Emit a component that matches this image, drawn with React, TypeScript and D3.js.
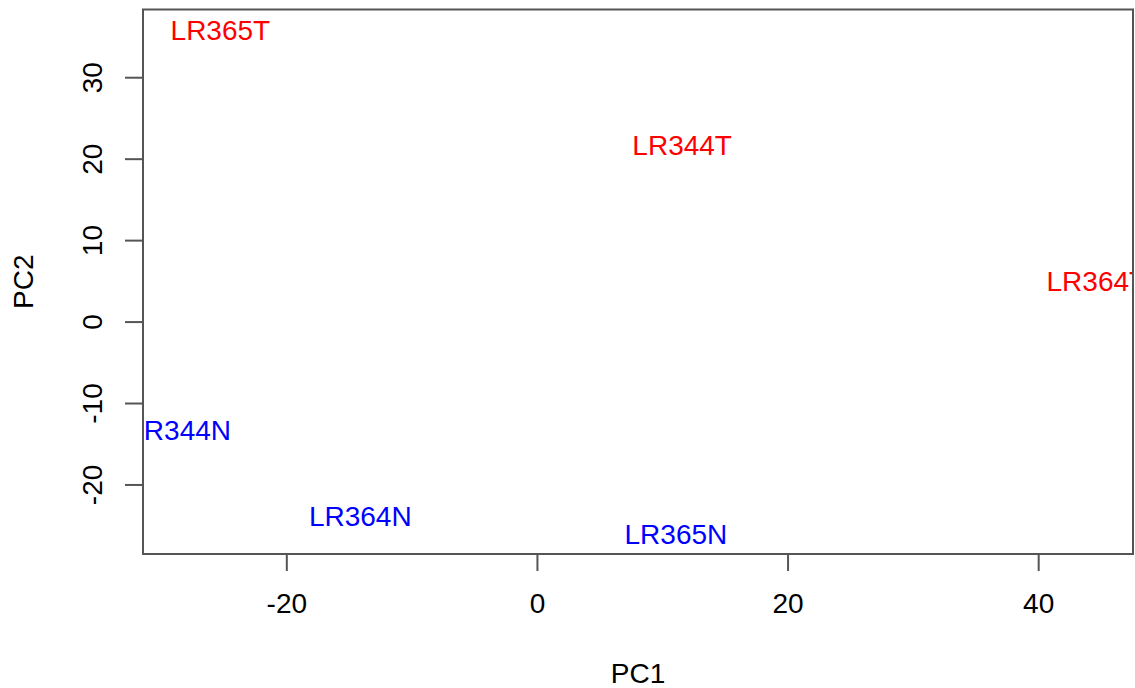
import React from "react";
import * as d3 from "d3";

const sampleNames = ["LR365T", "LR344T", "LR364T", "LR344N", "LR364N", "LR365N"];
const pc1Values = [-25.3, 11.55, 44.6, -28.55, -14.14, 11.05];
const pc2Values = [35.9, 21.7, 5.1, -13.25, -23.8, -26.0];
const groups = ["T", "T", "T", "N", "N", "N"];
const xTicks = [-20, 0, 20, 40];
const yTicks = [-20, -10, 0, 10, 20, 30];

const W = 1135;
const H = 688;
const left = 143;
const right = 1133;
const top = 9.5;
const bottom = 554;
const FS = 28;
const FONT = "'Liberation Sans', Arial, Helvetica, sans-serif";

function ext(vals: number[]): [number, number] {
  const [mn, mx] = d3.extent(vals) as [number, number];
  const r = mx - mn;
  return [mn - 0.04 * r, mx + 0.04 * r];
}

export default function App() {
  const x = d3.scaleLinear().domain(ext(pc1Values)).range([left, right]);
  const y = d3.scaleLinear().domain(ext(pc2Values)).range([bottom, top]);
  const colorOf = (g: string) => (g === "T" ? "#ff0000" : "#0000ff");
  const axisColor = "#555";
  return (
    <svg
      width={W}
      height={H}
      style={{ position: "absolute", left: 0, top: 0, background: "#fff" }}
      fontFamily={FONT}
    >
      <defs>
        <clipPath id="plotclip">
          <rect x={left} y={top} width={right - left} height={bottom - top} />
        </clipPath>
      </defs>
      <rect x={0} y={0} width={W} height={H} fill="#fff" />
      <g clipPath="url(#plotclip)">
        {sampleNames.map((n, i) => (
          <text
            key={n}
            x={x(pc1Values[i])}
            y={y(pc2Values[i])}
            dy={0.358 * FS}
            textAnchor="middle"
            fontSize={FS}
            fill={colorOf(groups[i])}
          >
            {n}
          </text>
        ))}
      </g>
      <rect
        x={left}
        y={top}
        width={right - left}
        height={bottom - top}
        fill="none"
        stroke={axisColor}
        strokeWidth={2}
      />
      {xTicks.map((t) => (
        <g key={"x" + t}>
          <line x1={x(t)} x2={x(t)} y1={bottom} y2={bottom + 17} stroke={axisColor} strokeWidth={2} />
          <text x={x(t)} y={613} textAnchor="middle" fontSize={FS} fill="#000">
            {t}
          </text>
        </g>
      ))}
      {yTicks.map((t) => (
        <g key={"y" + t}>
          <line x1={left - 18} x2={left} y1={y(t)} y2={y(t)} stroke={axisColor} strokeWidth={2} />
          <text
            transform={`translate(102.3,${y(t)}) rotate(-90)`}
            textAnchor="middle"
            fontSize={FS}
            fill="#000"
          >
            {t}
          </text>
        </g>
      ))}
      <text x={(left + right) / 2} y={683} textAnchor="middle" fontSize={FS} fill="#000">
        PC1
      </text>
      <text
        transform={`translate(33,${(top + bottom) / 2}) rotate(-90)`}
        textAnchor="middle"
        fontSize={FS}
        fill="#000"
      >
        PC2
      </text>
    </svg>
  );
}
